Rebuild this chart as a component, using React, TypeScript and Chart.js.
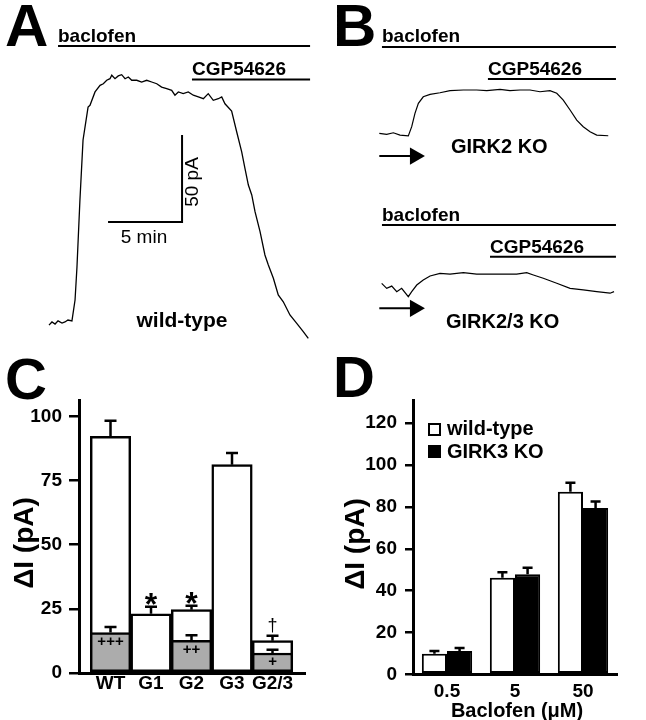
import React, { useEffect, useRef } from "react";
import { Chart, registerables } from "chart.js";
Chart.register(...registerables);

const FONT = '"Liberation Sans", Arial, Helvetica, sans-serif';

// ================= DATA =================
// Panel A – wild-type trace (time in min, current in pA above baseline)
const wtTime = [0, 0.2, 0.41, 0.61, 0.88, 1.08, 1.28, 1.55, 1.76, 1.89, 2.09, 2.3, 2.64, 2.77, 3.11, 3.45, 3.67, 3.9, 4.12, 4.24, 4.46, 4.68, 4.91, 5.14, 5.36, 5.59, 5.93, 6.26, 6.6, 6.94, 7.28, 7.61, 7.95, 8.29, 8.51, 8.74, 9.07, 9.41, 9.75, 10.09, 10.43, 10.76, 11.1, 11.44, 11.67, 11.89, 12.34, 12.68, 13.02, 13.24, 13.47, 13.7, 13.92, 14.26, 14.59, 14.82, 15.16, 15.49, 15.83, 16.28, 16.74, 17.18, 17.52];
const wtCurrent = [-1.2, 0.6, -0.6, 1.2, 0, 0.6, 1.7, 1.2, 13.2, 32.2, 70.7, 105.2, 124.1, 125.1, 132.8, 136.6, 137.5, 139.5, 140.4, 142.4, 140.4, 142.0, 142.7, 140.4, 141.4, 139.5, 139.5, 138.5, 139.5, 138.5, 137.5, 135.6, 134.7, 133.7, 130.9, 132.8, 131.8, 132.8, 130.9, 129.9, 128.9, 131.8, 128.0, 128.9, 129.9, 126.0, 121.8, 109.9, 98.4, 88.9, 79.3, 73.6, 64.0, 52.5, 39.1, 33.3, 25.7, 16.1, 12.2, 4.6, -0.2, -5.0, -8.8];

// Panel B – GIRK2 KO trace
const g2Time = [0, 0.5, 0.95, 1.4, 1.96, 2.19, 2.41, 2.64, 2.97, 3.43, 4.1, 4.78, 5.68, 6.58, 7.26, 8.16, 8.83, 9.51, 10.18, 10.86, 11.53, 11.99, 12.43, 12.89, 13.34, 13.78, 14.24, 14.69, 15.47];
const g2Current = [0.4, -0.2, 0.7, -0.6, -1.1, 4.2, 11.9, 17.6, 21.4, 22.8, 23.7, 24.9, 25.3, 25.3, 24.9, 25.7, 24.9, 25.3, 25.3, 24.3, 24.9, 23.4, 19.5, 13.8, 8.0, 4.2, 1.3, -0.6, -1.0];

// Panel B – GIRK2/3 KO trace
const g23Time = [0.16, 0.5, 0.84, 1.18, 1.51, 1.96, 2.19, 2.53, 2.97, 3.43, 4.1, 4.78, 5.68, 6.58, 7.48, 8.38, 9.28, 9.96, 10.41, 11.08, 11.99, 12.89, 13.78, 14.69, 15.59, 15.86];
const g23Current = [2.7, -0.2, 1.1, -2.1, -0.2, -5.0, -2.1, 1.7, 4.6, 6.9, 8.4, 8.0, 8.8, 8.0, 8.0, 8.0, 8.0, 8.8, 7.5, 5.6, 2.7, -0.2, -1.1, -2.1, -3.0, -2.1];

// Drug application periods (min)
const baclofenA = [0.61, 17.64];
const cgpA = [9.66, 17.64];
const baclofenB = [0.18, 15.99];
const cgpB1 = [7.34, 15.99];
const cgpB2 = [7.48, 15.99];
const scaleBarMin = 5;
const scaleBarPA = 50;

// Panel C
const cLabels = ["WT", "G1", "G2", "G3", "G2/3"];
const cTotal = [92.2, 23.1, 24.7, 81.2, 12.6];
const cTotalErr = [6.1, 2.7, 1.5, 4.5, 1.9];
const cResidual = [15.8, null, 12.7, null, 7.8];
const cResidualErr = [2.1, null, 2.0, null, 1.3];
const cTopMarks = ["", "*", "*", "", "\u2020"];
const cInnerMarks = ["+++", "", "++", "", "+"];
const cTicks = [0, 25, 50, 75, 100];

// Panel D
const dLabels = ["0.5", "5", "50"];
const dWT = [9.8, 46.2, 87.3];
const dWTErr = [1.3, 2.6, 4.2];
const dKO = [11.1, 47.8, 79.5];
const dKOErr = [1.5, 3.1, 3.1];
const dTicks = [0, 20, 40, 60, 80, 100, 120];

// ================= HELPERS =================
type TextItem = {
  text: string; x: number; y: number; font: string;
  align?: CanvasTextAlign; baseline?: CanvasTextBaseline; rotate?: number;
};

function textPlugin(id: string, items: TextItem[], ox: number, oy: number, extra?: (ctx: CanvasRenderingContext2D) => void) {
  return {
    id,
    afterDraw(chart: any) {
      const ctx: CanvasRenderingContext2D = chart.ctx;
      ctx.save();
      ctx.fillStyle = "#000";
      for (const it of items) {
        ctx.save();
        ctx.font = it.font;
        ctx.textAlign = it.align ?? "left";
        ctx.textBaseline = it.baseline ?? "alphabetic";
        ctx.translate(it.x - ox, it.y - oy);
        if (it.rotate) ctx.rotate(it.rotate);
        ctx.fillText(it.text, 0, 0);
        ctx.restore();
      }
      if (extra) extra(ctx);
      ctx.restore();
    },
  };
}

type ErrSet = { dataset: number; err: number[]; cap: number };
function errorBarPlugin(sets: ErrSet[], lineWidth: number) {
  return {
    id: "errbars",
    afterDatasetsDraw(chart: any) {
      const ctx: CanvasRenderingContext2D = chart.ctx;
      const ys = chart.scales.y;
      ctx.save();
      ctx.strokeStyle = "#000";
      ctx.lineWidth = lineWidth;
      for (const s of sets) {
        const meta = chart.getDatasetMeta(s.dataset);
        const data = chart.data.datasets[s.dataset].data;
        meta.data.forEach((el: any, j: number) => {
          const raw = data[j];
          const v = typeof raw === "number" ? raw : raw.y;
          const top = ys.getPixelForValue(v + s.err[j]);
          ctx.beginPath();
          ctx.moveTo(el.x, el.y);
          ctx.lineTo(el.x, top);
          ctx.moveTo(el.x - s.cap / 2, top);
          ctx.lineTo(el.x + s.cap / 2, top);
          ctx.stroke();
        });
      }
      ctx.restore();
    },
  };
}

function ChartCanvas(props: { left: number; top: number; width: number; height: number; make: (c: HTMLCanvasElement) => Chart }) {
  const ref = useRef<HTMLCanvasElement>(null);
  useEffect(() => {
    const chart = props.make(ref.current!);
    return () => chart.destroy();
  }, []);
  return (
    <canvas
      ref={ref}
      width={props.width}
      height={props.height}
      style={{ position: "absolute", left: props.left, top: props.top, width: props.width, height: props.height }}
    />
  );
}

const pts = (t: number[], v: number[], off = 0) => t.map((x, i) => ({ x, y: v[i] + off }));
const seg = (range: number[], level: number) => [{ x: range[0], y: level }, { x: range[1], y: level }];
const lineDs = (data: any[], width: number) => ({
  data, borderColor: "#000", borderWidth: width, pointRadius: 0, tension: 0, fill: false,
});

const baseOpts = (xmin: number, xmax: number, ymin: number, ymax: number) => ({
  responsive: false,
  animation: false as const,
  devicePixelRatio: 1,
  layout: { padding: 0, autoPadding: false },
  plugins: { legend: { display: false }, tooltip: { enabled: false } },
  scales: {
    x: { type: "linear" as const, display: false, min: xmin, max: xmax, offset: false },
    y: { type: "linear" as const, display: false, min: ymin, max: ymax },
  },
});

// ================= PANEL A =================
// layout: 14.8 px per min, 1.74 px per pA
function makeA(canvas: HTMLCanvasElement) {
  const W = 330, H = 345;
  const xmin = -49 / 14.8, xmax = (W - 49) / 14.8;
  const ymax = 323 / 1.74, ymin = (323 - H) / 1.74;
  const bacLevel = 159.2, cgpLevel = 140.0;
  const sbX = 8.99, sbY = 58.0;
  const texts: TextItem[] = [
    { text: "A", x: 5, y: 46, font: `bold 60px ${FONT}` },
    { text: "baclofen", x: 58, y: 41.5, font: `bold 19px ${FONT}` },
    { text: "CGP54626", x: 192, y: 75, font: `bold 19px ${FONT}` },
    { text: "50 pA", x: 193, y: 182, font: `19px ${FONT}`, align: "center", baseline: "middle", rotate: -Math.PI / 2 },
    { text: "5 min", x: 144, y: 243, font: `19px ${FONT}`, align: "center" },
    { text: "wild-type", x: 182, y: 327, font: `bold 21px ${FONT}`, align: "center" },
  ];
  return new Chart(canvas, {
    type: "line",
    data: {
      datasets: [
        lineDs(pts(wtTime, wtCurrent), 1.3),
        lineDs(seg(baclofenA, bacLevel), 2),
        lineDs(seg(cgpA, cgpLevel), 2),
        lineDs([{ x: sbX, y: sbY + scaleBarPA }, { x: sbX, y: sbY }, { x: sbX - scaleBarMin, y: sbY }], 2),
      ],
    },
    options: baseOpts(xmin, xmax, ymin, ymax) as any,
    plugins: [textPlugin("txtA", texts, 0, 0)],
  });
}

// ================= PANEL B =================
function makeB(canvas: HTMLCanvasElement) {
  const L = 330, W = 316, H = 345;
  const x0 = 379.3;
  const xmin = (L - x0) / 14.8, xmax = (L + W - x0) / 14.8;
  const ymin = 0, ymax = H / 1.74;
  const offUpper = 121.26, offLower = 32.76;
  const arrow = (level: number) => ({
    data: [{ x: 0, y: level }, { x: 2.41, y: level }],
    borderColor: "#000", borderWidth: 2, tension: 0, fill: false,
    pointRadius: [0, 10], pointStyle: "triangle", pointRotation: 90,
    pointBackgroundColor: "#000", pointBorderColor: "#000", pointBorderWidth: 0,
  });
  const texts: TextItem[] = [
    { text: "B", x: 333, y: 46, font: `bold 60px ${FONT}` },
    { text: "baclofen", x: 382, y: 41.7, font: `bold 19px ${FONT}` },
    { text: "CGP54626", x: 488, y: 75, font: `bold 19px ${FONT}` },
    { text: "GIRK2 KO", x: 451, y: 153, font: `bold 20px ${FONT}` },
    { text: "baclofen", x: 382, y: 221, font: `bold 19px ${FONT}` },
    { text: "CGP54626", x: 490, y: 253, font: `bold 19px ${FONT}` },
    { text: "GIRK2/3 KO", x: 446, y: 328, font: `bold 20px ${FONT}` },
  ];
  return new Chart(canvas, {
    type: "line",
    data: {
      datasets: [
        lineDs(pts(g2Time, g2Current, offUpper), 1.2),
        lineDs(pts(g23Time, g23Current, offLower), 1.2),
        lineDs(seg(baclofenB, 171.3), 2),
        lineDs(seg(cgpB1, 152.9), 2),
        lineDs(seg(baclofenB, 69.0), 2),
        lineDs(seg(cgpB2, 50.7), 2),
        arrow(108.6) as any,
        arrow(21.1) as any,
      ],
    },
    options: baseOpts(xmin, xmax, ymin, ymax) as any,
    plugins: [textPlugin("txtB", texts, L, 0)],
  });
}

// ================= PANEL C =================
function makeC(canvas: HTMLCanvasElement) {
  const L = 0, T = 350;
  const totalData = cTotal.map((v, i) => ({ x: i, y: v }));
  const resIdx = cResidual.map((v, i) => (v == null ? -1 : i)).filter((i) => i >= 0);
  const resData = resIdx.map((i) => ({ x: i, y: cResidual[i] as number }));
  const resErr = resIdx.map((i) => cResidualErr[i] as number);
  const texts: TextItem[] = [
    { text: "C", x: 5, y: 399, font: `bold 58px ${FONT}` },
    { text: "\u0394I (pA)", x: 25, y: 543, font: `bold 28px ${FONT}`, align: "center", baseline: "middle", rotate: -Math.PI / 2 },
  ];
  const marks = {
    id: "cmarks",
    afterDatasetsDraw(chart: any) {
      const ctx: CanvasRenderingContext2D = chart.ctx;
      const xs = chart.scales.x, ys = chart.scales.y;
      ctx.save();
      ctx.fillStyle = "#000";
      ctx.textAlign = "center";
      cLabels.forEach((_, i) => {
        const x = xs.getPixelForValue(i);
        const m = cTopMarks[i];
        if (m) {
          const top = ys.getPixelForValue(cTotal[i] + cTotalErr[i]);
          ctx.textBaseline = "alphabetic";
          if (m === "*") {
            ctx.font = `bold 32px ${FONT}`;
            ctx.fillText(m, x, top + 8);
          } else {
            ctx.font = `18px ${FONT}`;
            ctx.fillText(m, x, top - 5);
          }
        }
        const p = cInnerMarks[i];
        if (p && cResidual[i] != null) {
          ctx.font = `bold 15px ${FONT}`;
          ctx.textBaseline = "middle";
          ctx.fillText(p, x, ys.getPixelForValue(cResidual[i] as number) + 9);
        }
      });
      ctx.restore();
    },
  };
  return new Chart(canvas, {
    type: "bar",
    data: {
      datasets: [
        {
          data: resData, backgroundColor: "#acacac", borderColor: "#000", borderWidth: 2.5,
          borderSkipped: false, grouped: false, categoryPercentage: 1, barPercentage: 1,
        } as any,
        {
          data: totalData, backgroundColor: "#fff", borderColor: "#000", borderWidth: 2.5,
          borderSkipped: false, grouped: false, categoryPercentage: 1, barPercentage: 1,
        } as any,
      ],
    },
    options: {
      responsive: false,
      animation: false,
      devicePixelRatio: 1,
      layout: { padding: { top: 50, left: 0, right: 0, bottom: 0 } },
      plugins: { legend: { display: false }, tooltip: { enabled: false } },
      scales: {
        x: {
          type: "linear", min: -0.778, max: 4.827, offset: false,
          afterBuildTicks: (s: any) => { s.ticks = cLabels.map((_, i) => ({ value: i })); },
          afterFit: (s: any) => { s.height = 47; },
          grid: { display: false, drawTicks: false },
          border: { display: true, width: 3, color: "#000" },
          ticks: {
            callback: (v: any) => cLabels[v] ?? "",
            autoSkip: false, maxRotation: 0, padding: 1, color: "#000",
            font: { family: FONT, weight: "bold", size: 19, lineHeight: 1 },
          },
        },
        y: {
          type: "linear", min: 0, max: 106.4,
          afterBuildTicks: (s: any) => { s.ticks = cTicks.map((v) => ({ value: v })); },
          afterFit: (s: any) => { s.width = 79; },
          grid: { display: true, drawOnChartArea: false, drawTicks: true, tickLength: 10, color: "#000", lineWidth: 2.5 },
          border: { display: true, width: 3, color: "#000" },
          ticks: { padding: 7, color: "#000", font: { family: FONT, weight: "bold", size: 19 } },
        },
      },
    } as any,
    plugins: [
      errorBarPlugin([{ dataset: 1, err: cTotalErr, cap: 12 }, { dataset: 0, err: resErr, cap: 12 }], 2.5) as any,
      marks as any,
      textPlugin("txtC", texts, L, T),
    ],
  });
}

// ================= PANEL D =================
function makeD(canvas: HTMLCanvasElement) {
  const L = 330, T = 350;
  const texts: TextItem[] = [
    { text: "D", x: 333, y: 397, font: `bold 58px ${FONT}` },
    { text: "\u0394I (pA)", x: 356, y: 544, font: `bold 28px ${FONT}`, align: "center", baseline: "middle", rotate: -Math.PI / 2 },
    { text: "Baclofen (\u03bcM)", x: 517, y: 717, font: `bold 20px ${FONT}`, align: "center" },
    { text: "wild-type", x: 447, y: 435, font: `bold 20px ${FONT}` },
    { text: "GIRK3 KO", x: 447, y: 458, font: `bold 20px ${FONT}` },
  ];
  const legendBoxes = (ctx: CanvasRenderingContext2D) => {
    ctx.fillStyle = "#fff";
    ctx.fillRect(428 - L, 423 - T, 13, 13);
    ctx.strokeStyle = "#000";
    ctx.lineWidth = 2;
    ctx.strokeRect(429 - L, 424 - T, 11, 11);
    ctx.fillStyle = "#000";
    ctx.fillRect(428 - L, 445 - T, 13, 13);
  };
  return new Chart(canvas, {
    type: "bar",
    data: {
      labels: dLabels,
      datasets: [
        { label: "wild-type", data: dWT, backgroundColor: "#fff", borderColor: "#000", borderWidth: 2, borderSkipped: false } as any,
        { label: "GIRK3 KO", data: dKO, backgroundColor: "#000", borderColor: "#000", borderWidth: 2, borderSkipped: false } as any,
      ],
    },
    options: {
      responsive: false,
      animation: false,
      devicePixelRatio: 1,
      layout: { padding: { top: 50, left: 0, right: 29, bottom: 0 } },
      datasets: { bar: { categoryPercentage: 0.74, barPercentage: 1 } },
      plugins: { legend: { display: false }, tooltip: { enabled: false } },
      scales: {
        x: {
          type: "category",
          afterFit: (s: any) => { s.height = 45.7; },
          grid: { display: false, drawTicks: false },
          border: { display: true, width: 3, color: "#000" },
          ticks: { autoSkip: false, maxRotation: 0, padding: 8, color: "#000", font: { family: FONT, weight: "bold", size: 19, lineHeight: 1 } },
        },
        y: {
          type: "linear", min: 0, max: 131.1,
          afterBuildTicks: (s: any) => { s.ticks = dTicks.map((v) => ({ value: v })); },
          afterFit: (s: any) => { s.width = 83; },
          grid: { display: true, drawOnChartArea: false, drawTicks: true, tickLength: 8, color: "#000", lineWidth: 2.5 },
          border: { display: true, width: 3, color: "#000" },
          ticks: { padding: 8, color: "#000", font: { family: FONT, weight: "bold", size: 19 } },
        },
      },
    } as any,
    plugins: [
      errorBarPlugin([{ dataset: 0, err: dWTErr, cap: 10 }, { dataset: 1, err: dKOErr, cap: 10 }], 2.5) as any,
      textPlugin("txtD", texts, L, T, legendBoxes),
    ],
  });
}

export default function App() {
  return (
    <div style={{ position: "absolute", left: 0, top: 0, width: 646, height: 720, background: "#fff", overflow: "hidden" }}>
      <ChartCanvas left={0} top={0} width={330} height={345} make={makeA} />
      <ChartCanvas left={330} top={0} width={316} height={345} make={makeB} />
      <ChartCanvas left={0} top={350} width={306} height={370} make={makeC} />
      <ChartCanvas left={330} top={350} width={316} height={370} make={makeD} />
    </div>
  );
}
